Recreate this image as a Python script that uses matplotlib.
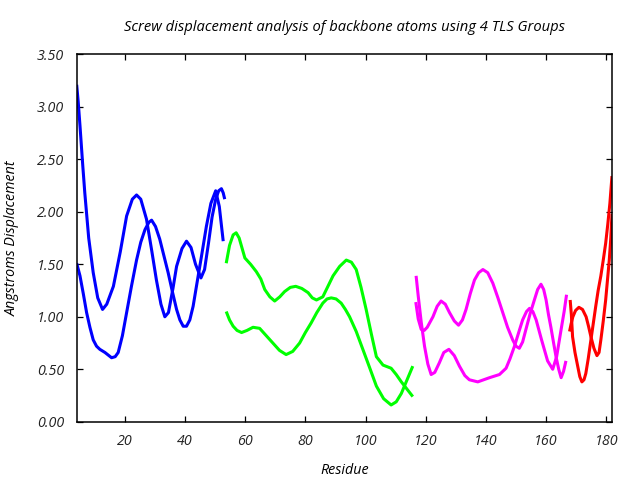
import matplotlib
matplotlib.use("Agg")
import matplotlib.pyplot as plt

# ---- data ----
blue_a_x = [4, 4.5, 5.1, 6, 6.7, 8, 9.5, 11, 12.6, 14, 16.2, 18.5, 20.6, 22.5, 23.9, 25.3, 27.2, 29, 30.5, 32,
            33.3, 34.5, 36, 37.2, 39, 40.5, 42, 43.5, 45.3, 46.5, 47.8, 49, 50.2, 51.2, 52.1, 52.7, 53.2]
blue_a_y = [3.21, 3.05, 2.82, 2.45, 2.18, 1.75, 1.42, 1.18, 1.07, 1.12, 1.29, 1.62, 1.96, 2.12, 2.16, 2.12, 1.93, 1.62, 1.35, 1.12,
            1.00, 1.04, 1.27, 1.48, 1.65, 1.72, 1.66, 1.50, 1.37, 1.45, 1.70, 1.95, 2.12, 2.20, 2.22, 2.18, 2.12]
blue_b_x = [4, 5.1, 6.2, 7.3, 8.4, 9.5, 10.6, 11.7, 13.4, 15.6, 16.8, 17.8, 19.2, 20.6, 22.2, 23.9, 25.3, 26.7, 28, 28.9,
            30.2, 31.6, 33, 34.4, 35.8, 37.2, 38.3, 39.4, 40.5, 41.6, 42.7, 43.8, 45.5, 47.1, 48.6, 50.2, 51.4, 52.7]
blue_b_y = [1.51, 1.39, 1.22, 1.04, 0.90, 0.78, 0.72, 0.69, 0.66, 0.61, 0.62, 0.66, 0.82, 1.04, 1.29, 1.54, 1.71, 1.83, 1.90, 1.92,
            1.86, 1.74, 1.58, 1.42, 1.24, 1.07, 0.97, 0.91, 0.91, 0.97, 1.10, 1.29, 1.58, 1.86, 2.08, 2.20, 2.05, 1.72]

green_a_x = [53.7, 54.8, 56, 57.0, 58, 59.9, 61.8, 63.7, 65.2, 66.5, 68.2, 69.8, 71.5, 73.1, 75, 76.8, 78.8, 80.9, 82.3, 83.7,
             85.8, 87.5, 89.2, 91.4, 93.6, 95.3, 96.9, 98.5, 100.2, 101.9, 103.6, 105.8, 108.5, 110.2, 111.9, 113.8, 115.7]
green_a_y = [1.51, 1.68, 1.78, 1.80, 1.75, 1.56, 1.50, 1.43, 1.36, 1.26, 1.19, 1.15, 1.19, 1.24, 1.28, 1.29, 1.27, 1.23, 1.18, 1.16,
             1.19, 1.29, 1.39, 1.48, 1.54, 1.52, 1.45, 1.28, 1.07, 0.84, 0.62, 0.54, 0.51, 0.45, 0.38, 0.31, 0.24]
green_b_x = [53.7, 54.8, 56, 57.3, 58.8, 60.6, 62.6, 64.8, 67, 69.2, 71.4, 73.6, 75.8, 78.1, 80, 81.9, 83.8, 85.8, 87.2, 88.6,
             90.2, 91.9, 93.3, 94.7, 96.9, 99.1, 101.3, 103.6, 106, 108.5, 110.2, 111.9, 113.8, 115.7]
green_b_y = [1.05, 0.97, 0.91, 0.87, 0.85, 0.87, 0.90, 0.89, 0.82, 0.75, 0.68, 0.64, 0.67, 0.75, 0.85, 0.94, 1.04, 1.13, 1.17, 1.18,
             1.17, 1.13, 1.07, 1.00, 0.86, 0.69, 0.52, 0.34, 0.22, 0.16, 0.19, 0.27, 0.40, 0.53]

magenta_a_x = [116.8, 117.5, 118.5, 119.6, 120.7, 121.8, 123, 124.5, 126, 127.7, 129.5, 131.2, 133, 134.5, 137.3, 141.2, 144.5,
               146.7, 148, 149.5, 151, 152.2, 153.5, 154.5, 155.6, 156.7, 158.5, 160.5, 162.2, 163.5, 165, 166, 166.8]
magenta_a_y = [1.39, 1.20, 0.95, 0.72, 0.55, 0.45, 0.47, 0.56, 0.66, 0.69, 0.63, 0.53, 0.44, 0.40, 0.38, 0.42, 0.45,
               0.51, 0.60, 0.72, 0.86, 0.97, 1.05, 1.08, 1.05, 0.97, 0.78, 0.58, 0.50, 0.62, 0.88, 1.05, 1.21]
magenta_b_x = [116.7, 117.5, 118.5, 119.5, 120.5, 122.4, 123.8, 125.1, 126.5, 127.9, 129.5, 130.9, 132.2, 133.4, 134.8, 136.2,
               137.6, 139, 140.6, 142.3, 144, 145.6, 147.2, 148.9, 150, 151.1, 152.2, 153.3, 154.7, 156.1, 157.2, 158.3,
               159.2, 160, 160.8, 161.6, 162.5, 163.3, 164.2, 165, 165.8, 166.6]
magenta_b_y = [1.14, 0.98, 0.88, 0.87, 0.90, 1.00, 1.10, 1.15, 1.12, 1.04, 0.96, 0.92, 0.97, 1.07, 1.22, 1.35,
               1.42, 1.45, 1.42, 1.32, 1.18, 1.04, 0.90, 0.78, 0.72, 0.70, 0.76, 0.88, 1.03, 1.16, 1.26, 1.31,
               1.26, 1.16, 1.02, 0.90, 0.75, 0.62, 0.50, 0.42, 0.48, 0.58]

red_a_x = [168.0, 168.4, 168.8, 169.6, 170.5, 171.2, 171.9, 172.6, 173.2, 174, 174.9, 175.7, 176.5, 177.3, 178.2, 179,
           179.8, 180.5, 181.2, 181.9]
red_a_y = [1.16, 1.02, 0.81, 0.66, 0.53, 0.43, 0.38, 0.40, 0.46, 0.60, 0.78, 0.94, 1.10, 1.25, 1.39, 1.54,
           1.70, 1.88, 2.08, 2.34]
red_b_x = [167.8, 168.3, 168.9, 169.8, 170.9, 172.1, 173.3, 174.1, 174.9, 175.9, 176.9, 177.6, 178.2, 179, 179.8,
           180.4, 181, 181.5, 181.9]
red_b_y = [0.86, 0.93, 1.00, 1.06, 1.09, 1.07, 1.00, 0.91, 0.81, 0.70, 0.63, 0.66, 0.78, 0.96, 1.16,
           1.35, 1.54, 1.75, 1.98]

x_ticks = [20, 40, 60, 80, 100, 120, 140, 160, 180]
y_ticks = [0.0, 0.5, 1.0, 1.5, 2.0, 2.5, 3.0, 3.5]
y_tick_labels = ["0.00", "0.50", "1.00", "1.50", "2.00", "2.50", "3.00", "3.50"]

title = "Screw displacement analysis of backbone atoms using 4 TLS Groups"
xlabel = "Residue"
ylabel = "Angstroms Displacement"

# ---- plot ----
plt.rcParams['font.family'] = ['Open Sans', 'DejaVu Sans']
plt.rcParams['font.style'] = 'italic'

fig = plt.figure(figsize=(6.4, 4.8), dpi=100)
ax = fig.add_axes([0.1198, 0.1213, 0.8369, 0.7656])

lw = 2.2
series = [
    (blue_a_x, blue_a_y, '#0000ff'), (blue_b_x, blue_b_y, '#0000ff'),
    (green_a_x, green_a_y, '#00ff00'), (green_b_x, green_b_y, '#00ff00'),
    (magenta_a_x, magenta_a_y, '#ff00ff'), (magenta_b_x, magenta_b_y, '#ff00ff'),
    (red_a_x, red_a_y, '#ff0000'), (red_b_x, red_b_y, '#ff0000'),
]
for xs, ys, c in series:
    ax.plot(xs, ys, color=c, lw=lw, solid_joinstyle='round', solid_capstyle='butt')

ax.set_xlim(4, 182)
ax.set_ylim(0, 3.5)
ax.set_xticks(x_ticks)
ax.set_xticklabels([str(v) for v in x_ticks])
ax.set_yticks(y_ticks)
ax.set_yticklabels(y_tick_labels)

ax.tick_params(direction='in', length=4, width=0.9, top=True, right=True,
               labelsize=10.3, colors='black')
ax.tick_params(axis='y', pad=9)
ax.tick_params(axis='x', pad=9)
for lab in ax.get_xticklabels() + ax.get_yticklabels():
    lab.set_fontstyle('italic')
    lab.set_color('#222222')
for s in ax.spines.values():
    s.set_linewidth(1.1)

ax.set_title(title, fontsize=10.6, fontstyle='italic', pad=17)
ax.set_xlabel(xlabel, fontsize=10.3, fontstyle='italic', labelpad=10)
ax.set_ylabel(ylabel, fontsize=10.3, fontstyle='italic', labelpad=12)

fig.savefig("out.png", dpi=100)
